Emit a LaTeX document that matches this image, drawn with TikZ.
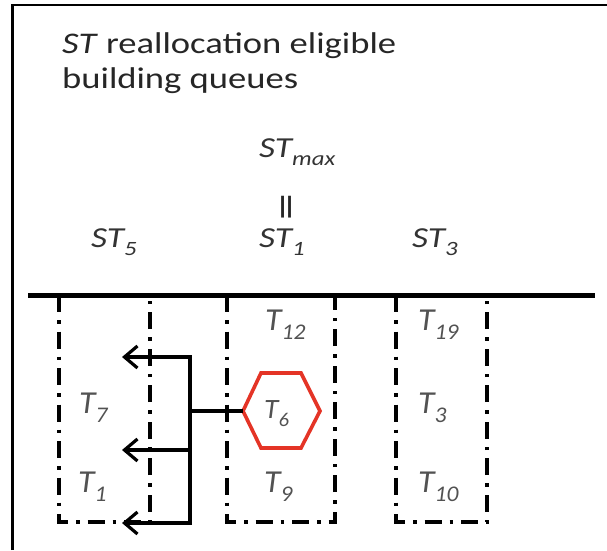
\documentclass[tikz,border=0pt]{standalone}
\usepackage{fontspec}
\setmainfont{Carlito}[FakeStretch=1.22]
\newfontfamily\tfont{Carlito}[FakeStretch=1.05]
\usetikzlibrary{arrows.meta}
\newcommand{\subsc}[2][0.3em]{\raisebox{-#1}{\scalebox{0.7}{#2}}}
\definecolor{hexred}{RGB}{228,52,38}
\begin{document}
\begin{tikzpicture}[x=1pt,y=-1pt,
  titletext/.style={inner sep=0pt, anchor=base west, text=black!85, font=\fontsize{30}{34}\selectfont},
  stlabel/.style={inner sep=0pt, anchor=base west, text=black!80, font=\fontsize{29}{30}\selectfont\itshape},
  tlabel/.style={inner sep=0pt, anchor=base west, text=black!68, font=\tfont\fontsize{32}{34}\selectfont\itshape},
  qbox/.style={line width=3.8pt, dash pattern=on 17pt off 8pt on 3.5pt off 8pt},
  conn/.style={line width=3.2pt, line join=miter},
  arr/.style={conn, -{Straight Barb[length=13pt,width=22pt]}},
  hexagon/.style={draw=hexred, line width=3.6pt, line join=miter}
]
\useasboundingbox (0,0) rectangle (607,550);
% frame
\coordinate (fb) at (12.5,550);
\coordinate (fc) at (12.5,5);
\coordinate (fr) at (607,5);
\draw[line width=2.6pt] (fb) -- (fc) -- (fr);

% title
\node[titletext] (title1) at (62,53) {\textit{ST} reallocation eligible};
\node[titletext] (title2) at (62,88) {building queues};

% ST labels
\node[stlabel] (stmax) at (259,157) {ST\subsc[0.28em]{max}};
\node[rotate=90, inner sep=0pt, text=black!85, font=\fontsize{44}{46}\selectfont] (eq) at (291,207) {=};
\node[stlabel] (st5) at (91,247) {ST\subsc{5}};
\node[stlabel] (st1) at (259,247) {ST\subsc{1}};
\node[stlabel] (st3) at (412,247) {ST\subsc{3}};

% rail
\coordinate (railL) at (28,295);
\coordinate (railR) at (595,295);
\draw[line width=5pt] (railL) -- (railR);

% queue boxes
\coordinate (a1) at (59,295);  \coordinate (a2) at (59,522);
\coordinate (a3) at (150,522); \coordinate (a4) at (150,295);
\coordinate (b1) at (227,295); \coordinate (b2) at (227,522);
\coordinate (b3) at (335,522); \coordinate (b4) at (335,295);
\coordinate (c1) at (396,295); \coordinate (c2) at (396,522);
\coordinate (c3) at (487,522); \coordinate (c4) at (487,295);
\draw[qbox] (a1) -- (a2) -- (a3) -- (a4);
\draw[qbox] (b1) -- (b2) -- (b3) -- (b4);
\draw[qbox] (c1) -- (c2) -- (c3) -- (c4);

% task labels
\node[tlabel] (t7) at (79,413) {T\subsc{7}};
\node[tlabel] (t1) at (78,492) {T\subsc{1}};
\node[tlabel] (t12) at (265,330) {T\subsc{12}};
\node[tlabel] (t9) at (264,492) {T\subsc{9}};
\node[tlabel] (t19) at (418,330) {T\subsc{19}};
\node[tlabel] (t3) at (418,413) {T\subsc{3}};
\node[tlabel] (t10) at (418,492) {T\subsc{10}};

% hexagon with T6
\coordinate (hL) at (243,411);
\coordinate (hTL) at (261,373);
\coordinate (hTR) at (301,373);
\coordinate (hR) at (320,411);
\coordinate (hBR) at (301,448);
\coordinate (hBL) at (261,448);
\draw[hexagon] (hL) -- (hTL) -- (hTR) -- (hR) -- (hBR) -- (hBL) -- cycle;
\node[tlabel, font=\tfont\fontsize{28}{30}\selectfont\itshape] (t6) at (264,418) {T\subsc{6}};

% reallocation arrows
\coordinate (jtop) at (190,357);
\coordinate (jhex) at (190,411);
\coordinate (jmid) at (190,450);
\coordinate (jbot) at (190,523);
\coordinate (tip1) at (122,357);
\coordinate (tip2) at (122,450);
\coordinate (tip3) at (122,523);
\draw[conn] (hL) -- (jhex);
\draw[arr] (jbot) -- (jtop) -- (tip1);
\draw[arr] (jtop) -- (jbot) -- (tip3);
\draw[arr] (jmid) -- (tip2);
\end{tikzpicture}
\end{document}
